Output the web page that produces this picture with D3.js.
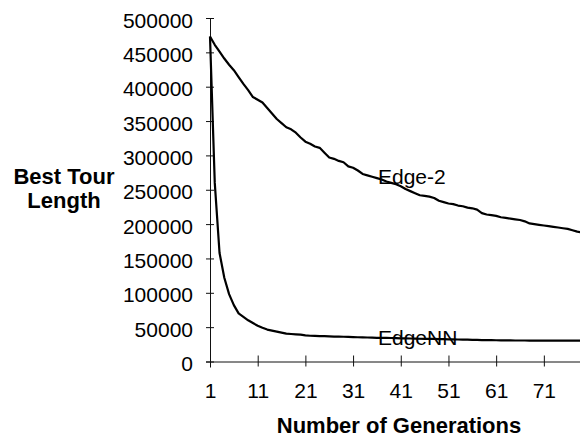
<!DOCTYPE html>
<html lang="en">
<head>
    <meta charset="UTF-8">
    <title>Best Tour Length vs Number of Generations</title>
    <style>
        body {
            margin: 0;
            background: #fff;
            font-family: "Liberation Sans", Arial, sans-serif;
        }
        svg { display: block; }
        .axis path, .axis line { stroke: #111; stroke-width: 1; }
        .axis text { fill: #000; font-size: 21px; font-family: "Liberation Sans", Arial, sans-serif; }
        .title { font-weight: bold; font-size: 22px; fill: #000; }
        .series-label { font-size: 21px; fill: #000; }
    </style>
</head>
<body>
    <svg id="chart" width="580" height="443"></svg>
    <script src="https://d3js.org/d3.v7.min.js"></script>
    <script>
        // generations 1..79
        const generations = d3.range(1, 80);

        // values
        const edge2 = [
            473000, 461000, 451000, 441000, 432000, 424000, 414000, 404000, 395000, 385000,
            381000, 377000, 369000, 361000, 353000, 347000, 341000, 338000, 333000, 326000,
            320000, 317000, 313000, 311000, 304000, 297000, 295000, 292000, 290000, 284000,
            282000, 278000, 273000, 271000, 269000, 267000, 265000, 262000, 260000, 258000,
            255000, 251000, 248000, 245000, 242000, 241000, 240000, 238000, 234000, 232000,
            230000, 229000, 227000, 226000, 224000, 223000, 221000, 216000, 214000, 213000,
            212000, 210000, 209000, 208000, 207000, 206000, 204000, 201000, 200000, 199000,
            198000, 197000, 196000, 195000, 194000, 193000, 191000, 189000, 188000
        ];
        const edgeNN = [
            473000, 260000, 158000, 122000, 98000, 82000, 70000, 65000, 60000, 56000,
            52000, 49000, 46500, 45000, 43500, 42000, 40500, 40000, 39500, 39000,
            38000, 37500, 37200, 37000, 36800, 36500, 36300, 36200, 36000, 35800,
            35500, 35300, 35100, 34900, 34700, 34500, 34400, 34300, 34200, 34000,
            33800, 33600, 33500, 33300, 33100, 33000, 32900, 32800, 32600, 32500,
            32300, 32100, 32000, 31800, 31700, 31500, 31400, 31200, 31100, 31000,
            30900, 30800, 30700, 30700, 30600, 30600, 30600, 30500, 30500, 30500,
            30500, 30500, 30500, 30500, 30500, 30500, 30500, 30500, 30500
        ];
        const seriesNames = ["Edge-2", "EdgeNN"];
        const xTicks = [1, 11, 21, 31, 41, 51, 61, 71];
        const yTicks = d3.range(0, 500001, 50000);

        const svg = d3.select("#chart");
        const x0 = 210, x1 = 582, yTop = 18, yBottom = 361.5;

        const x = d3.scaleLinear().domain([1, 79]).range([x0, x1]);
        const y = d3.scaleLinear().domain([0, 500000]).range([yBottom, yTop]);

        // y axis
        const yAxis = svg.append("g")
            .attr("class", "axis")
            .attr("transform", `translate(${x0},0)`)
            .call(d3.axisLeft(y).tickValues(yTicks).tickFormat(d3.format("d")).tickSizeOuter(0).tickSize(4));
        yAxis.selectAll(".tick line").attr("x1", -4).attr("x2", 4);
        yAxis.selectAll(".tick text").attr("x", -17).attr("dy", 9);

        // x axis
        const xAxis = svg.append("g")
            .attr("class", "axis")
            .attr("transform", `translate(0,${yBottom})`)
            .call(d3.axisBottom(x).tickValues(xTicks).tickFormat(d3.format("d")).tickSizeOuter(0).tickSize(6));
        xAxis.selectAll(".tick line").attr("y1", -6).attr("y2", 5);
        xAxis.selectAll(".tick text").attr("y", 36).attr("dy", 0);

        // lines
        const line = d3.line()
            .x((d, i) => x(generations[i]))
            .y(d => y(d));

        svg.append("g")
            .selectAll("path")
            .data([edge2, edgeNN])
            .join("path")
            .attr("fill", "none")
            .attr("stroke", "#000")
            .attr("stroke-width", 2.2)
            .attr("stroke-linejoin", "round")
            .attr("d", line);

        // series labels
        svg.append("text").attr("class", "series-label")
            .attr("x", 378).attr("y", 184).text(seriesNames[0]);
        svg.append("text").attr("class", "series-label")
            .attr("x", 378).attr("y", 345).text(seriesNames[1]);

        // axis titles
        const yTitle = svg.append("text").attr("class", "title")
            .attr("text-anchor", "middle");
        yTitle.append("tspan").attr("x", 64).attr("y", 184).text("Best Tour");
        yTitle.append("tspan").attr("x", 64).attr("y", 208).text("Length");

        svg.append("text").attr("class", "title")
            .attr("text-anchor", "middle")
            .attr("x", 399).attr("y", 433)
            .text("Number of Generations");
    </script>
</body>
</html>
